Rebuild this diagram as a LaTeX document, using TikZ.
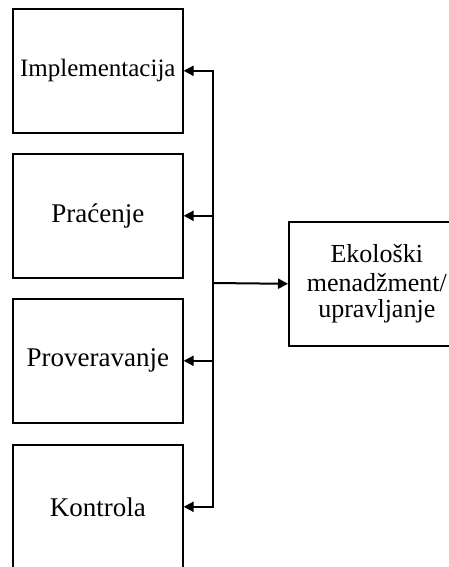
\documentclass[tikz,border=0pt]{standalone}
\usepackage{fontspec}
\setmainfont{Liberation Serif}
\usetikzlibrary{arrows.meta}
\begin{document}
\begin{tikzpicture}[x=1pt,y=-1pt,
  box/.style={draw,line width=1.6pt,minimum width=170pt,minimum height=124pt,inner sep=0pt,anchor=north west,align=center,font=\fontsize{27}{30}\selectfont},
  arr/.style={line width=2pt,-{Triangle[length=10pt,width=10pt]}}]
\useasboundingbox (0,0) rectangle (449,567);
\clip (0,0) rectangle (449,567);
\node[box] (imp) at (12,8) {\fontsize{25}{30}\selectfont Implementacija};
\node[box] (pra) at (12,153) {Praćenje};
\node[box] (pro) at (12,298) {Proveravanje};
\node[box] (kon) at (12,444) {Kontrola};
\node[box,minimum width=176pt] (eko) at (288,221) {\fontsize{26}{30}\selectfont Ekološki\\[-1pt]\fontsize{26}{30}\selectfont menadžment/\\[-4pt]\fontsize{26}{30}\selectfont upravljanje};
\coordinate (jm) at (213,283);
\draw[arr] (jm) |- (imp.east);
\draw[arr] (jm) |- (pra.east);
\draw[arr] (jm) |- (pro.east);
\draw[arr] (jm) |- (kon.east);
\draw[arr] (jm) -- (eko.west);
\end{tikzpicture}
\end{document}
